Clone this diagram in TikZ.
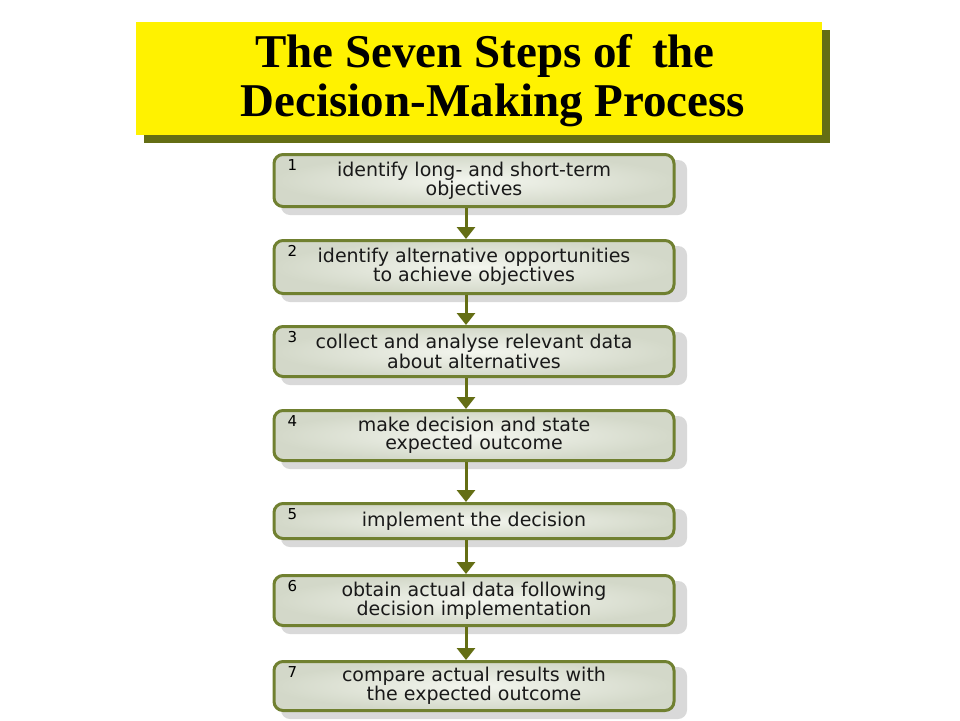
\documentclass[tikz,border=0pt]{standalone}
\usepackage{fontspec}
\setmainfont{Liberation Serif}
\newfontfamily\boxfont{DejaVu Sans}
\usetikzlibrary{arrows.meta}
\definecolor{olive}{RGB}{100,110,20}
\definecolor{boxfill}{RGB}{226,232,214}
\definecolor{boxedge}{RGB}{112,128,48}
\tikzset{
 stepbox/.style={draw=boxedge,line width=3pt,rounded corners=9pt,inner color=white!60!boxfill,outer color=boxfill!85!gray,
   minimum width=400pt,align=center,font=\boxfont\fontsize{19}{17.5}\selectfont,text=black!90},
 num/.style={font=\boxfont\fontsize{15}{15}\selectfont,anchor=north west},
 flow/.style={draw=olive,line width=3pt,-{Triangle[length=12pt,width=18pt]}}
}
\begin{document}
\begin{tikzpicture}[x=1pt,y=-1pt]
\useasboundingbox[fill=white] (0,0) rectangle (960,720);
\fill[olive] (144,30) rectangle (830,143);
\fill[yellow] (136,22) rectangle (822,135);
\node[font=\bfseries\fontsize{47}{49}\selectfont] (t1) at (485,56) {The Seven Steps of\, the};
\node[font=\bfseries\fontsize{47}{49}\selectfont] (t2) at (493,105) {Decision-Making Process};
\foreach \n/\ya/\yb/\txt in {1/153/208/{identify long- and short-term\\objectives},
  2/239/295/{identify alternative opportunities\\to achieve objectives},
  3/325/378/{collect and analyse relevant data\\about alternatives},
  4/409/462/{make decision and state\\expected outcome},
  5/502/540/{implement the decision},
  6/574/627/{obtain actual data following\\decision implementation},
  7/660/712/{compare actual results with\\the expected outcome}}{
  \fill[gray!30,rounded corners=9pt] (281,\ya+7) rectangle (687,\yb+7);
  \node[stepbox,minimum height={\yb-\ya-3},inner sep=2pt] (s\n) at (474,{(\ya+\yb)/2}) {\txt};
  \node[num] (n\n) at (284,\ya+3) {\n};
}
\foreach \a/\b in {1/2,2/3,3/4,4/5,5/6,6/7}{
  \draw[flow] (s\a.south -| 466,0) -- (s\b.north -| 466,0);
}
\end{tikzpicture}
\end{document}
